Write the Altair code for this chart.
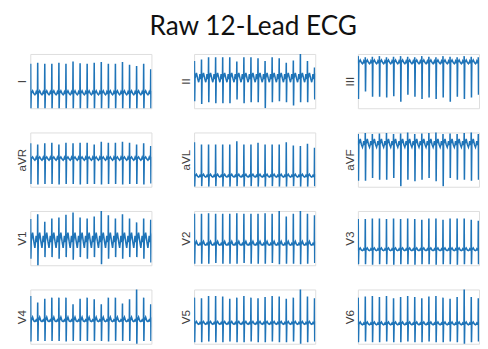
import altair as alt
import pandas as pd

TITLE = "Raw 12-Lead ECG"
LEADS = ["I", "II", "III", "aVR", "aVL", "aVF", "V1", "V2", "V3", "V4", "V5", "V6"]

# beat (R-peak) times, in beat units, shared by all leads
BEAT_T = [0, 1, 2, 3, 4, 5, 6, 7, 8, 9, 10, 11, 12, 13, 14, 15, 16, 17]

# isoelectric level of each lead (fraction of panel range)
BASE = {"I": 0.27, "II": 0.55, "III": 0.84, "aVR": 0.51, "aVL": 0.19, "aVF": 0.78,
        "V1": 0.44, "V2": 0.38, "V3": 0.28, "V4": 0.42, "V5": 0.37, "V6": 0.36}
# P-wave, T-wave and late-wave amplitudes of each lead
P_AMP = {"I": 0.03, "II": 0.08, "III": 0.03, "aVR": 0.03, "aVL": 0.02, "aVF": 0.06,
         "V1": 0.10, "V2": 0.02, "V3": 0.02, "V4": 0.02, "V5": 0.02, "V6": 0.02}
T_AMP = {"I": 0.05, "II": 0.10, "III": 0.05, "aVR": 0.04, "aVL": 0.04, "aVF": 0.10,
         "V1": 0.16, "V2": 0.06, "V3": 0.04, "V4": 0.07, "V5": 0.04, "V6": 0.04}
U_AMP = {"I": -0.02, "II": -0.07, "III": -0.02, "aVR": -0.02, "aVL": -0.01, "aVF": -0.05,
         "V1": -0.12, "V2": -0.01, "V3": -0.01, "V4": -0.01, "V5": -0.01, "V6": -0.01}

# R-peak level of each beat
R_PEAK = {
    "I":   [0.82, 0.84, 0.82, 0.82, 0.84, 0.82, 0.86, 0.83, 0.82, 0.84, 0.85, 0.82, 0.82, 0.85, 0.80, 0.78, 0.82, 0.72],
    "II":  [0.87, 0.90, 0.94, 0.94, 0.94, 0.94, 0.86, 0.94, 0.94, 0.92, 0.87, 0.94, 0.92, 0.84, 0.88, 1.02, 0.87, 0.75],
    "III": [0.96, 0.94, 0.95, 0.96, 0.94, 0.95, 0.96, 0.95, 0.94, 0.96, 0.95, 0.94, 0.96, 0.95, 0.94, 0.96, 0.95, 0.94],
    "aVR": [0.80, 0.78, 0.80, 0.81, 0.78, 0.81, 0.80, 0.81, 0.81, 0.78, 0.83, 0.81, 0.81, 0.83, 0.81, 0.78, 0.80, 0.75],
    "aVL": [0.82, 0.78, 0.78, 0.78, 0.78, 0.78, 0.84, 0.78, 0.78, 0.81, 0.78, 0.78, 0.78, 0.82, 0.76, 0.75, 0.79, 0.72],
    "aVF": [0.97, 0.99, 0.97, 0.98, 0.99, 0.97, 0.98, 1.02, 0.97, 0.98, 0.99, 1.02, 0.97, 0.98, 0.97, 0.99, 1.02, 0.97],
    "V1":  [0.85, 0.94, 0.80, 0.86, 0.88, 0.93, 0.97, 0.88, 0.86, 0.90, 1.02, 0.92, 0.86, 0.94, 0.86, 0.79, 0.86, 0.84],
    "V2":  [0.95, 0.95, 0.96, 0.95, 0.95, 0.95, 0.96, 0.95, 0.95, 0.95, 0.96, 0.95, 1.02, 0.90, 0.95, 1.02, 0.95, 0.92],
    "V3":  [0.85, 0.85, 0.86, 0.86, 0.85, 0.86, 0.85, 0.86, 0.85, 0.84, 0.86, 0.86, 0.84, 0.86, 0.86, 0.86, 0.84, 0.82],
    "V4":  [0.88, 0.76, 0.83, 0.85, 0.85, 0.85, 0.73, 0.83, 0.85, 0.82, 0.73, 0.85, 0.85, 0.74, 0.82, 1.02, 0.85, 0.73],
    "V5":  [0.85, 0.84, 0.88, 0.88, 0.87, 0.83, 0.85, 0.88, 0.85, 0.84, 0.86, 0.88, 0.87, 0.83, 0.85, 1.02, 0.87, 0.84],
    "V6":  [0.85, 0.87, 0.88, 0.86, 0.88, 0.84, 0.86, 0.88, 0.86, 0.84, 0.87, 0.88, 0.85, 0.83, 0.86, 1.02, 0.86, 0.84],
}
# S-trough level of each beat
S_TROUGH = {
    "I":   [-0.02, -0.02, -0.02, -0.02, -0.02, -0.02, -0.02, -0.02, -0.02, -0.02, -0.02, -0.02, -0.02, -0.02, -0.02, -0.02, -0.02, -0.02],
    "II":  [0.13, 0.08, 0.11, 0.09, 0.09, 0.09, 0.16, 0.09, 0.11, 0.11, 0.00, 0.11, 0.13, 0.11, 0.05, 0.11, 0.11, 0.16],
    "III": [0.17, 0.31, 0.21, 0.21, 0.20, 0.22, 0.12, 0.25, 0.21, 0.17, 0.20, 0.17, 0.20, 0.12, 0.21, 0.17, 0.20, 0.25],
    "aVR": [0.05, 0.04, 0.05, 0.05, 0.04, 0.05, 0.05, 0.04, 0.05, 0.05, 0.04, 0.05, 0.05, 0.04, 0.05, 0.05, 0.04, 0.06],
    "aVL": [0.00, 0.01, 0.00, 0.01, 0.00, 0.00, 0.01, 0.00, 0.01, 0.00, 0.00, 0.01, 0.00, 0.00, 0.01, 0.00, 0.00, 0.01],
    "aVF": [0.11, 0.11, 0.16, 0.13, 0.13, 0.16, 0.01, 0.13, 0.10, 0.13, 0.16, 0.10, 0.01, 0.16, 0.13, 0.13, 0.11, 0.13],
    "V1":  [0.12, -0.02, 0.15, 0.15, 0.12, 0.15, 0.10, 0.15, 0.12, 0.15, 0.02, 0.12, 0.15, 0.12, 0.15, 0.15, 0.12, 0.05],
    "V2":  [0.03, 0.03, 0.03, 0.04, 0.03, 0.03, 0.03, 0.04, 0.03, 0.03, 0.03, 0.04, 0.02, 0.03, 0.03, 0.02, 0.03, 0.04],
    "V3":  [0.02, 0.02, 0.01, 0.02, 0.02, 0.01, 0.02, 0.02, 0.01, 0.02, 0.02, 0.01, 0.02, 0.02, 0.01, 0.02, 0.02, 0.02],
    "V4":  [0.04, 0.05, 0.05, 0.05, 0.05, 0.04, 0.05, 0.05, 0.05, 0.05, 0.05, 0.04, 0.05, 0.05, 0.05, -0.02, 0.05, 0.05],
    "V5":  [0.03, 0.03, 0.04, 0.03, 0.03, 0.04, 0.03, 0.03, 0.04, 0.03, 0.03, 0.04, 0.03, 0.03, 0.04, -0.02, 0.03, 0.04],
    "V6":  [0.03, 0.04, 0.03, 0.03, 0.04, 0.03, 0.03, 0.04, 0.03, 0.03, 0.04, 0.03, 0.03, 0.04, 0.03, -0.02, 0.03, 0.04],
}

# time offsets (beat units) of the landmarks of one beat
OFFS = [-0.30, -0.22, -0.14, -0.03, 0.0, 0.03, 0.08, 0.28, 0.45, 0.60, 0.70]


def lead_frame(lead):
    rows = []
    b, p, t, u = BASE[lead], P_AMP[lead], T_AMP[lead], U_AMP[lead]
    for bt, r, s in zip(BEAT_T, R_PEAK[lead], S_TROUGH[lead]):
        levels = [b, b + p, b, b, r, s, b, b + t, b, b + u, b]
        for o, v in zip(OFFS, levels):
            rows.append({"t": bt + o, "v": v})
    return pd.DataFrame(rows)


def panel(lead):
    return (
        alt.Chart(lead_frame(lead))
        .mark_line(clip=True, strokeWidth=1.6, color="#1f74b8")
        .encode(
            x=alt.X("t:Q", scale=alt.Scale(domain=[-0.05, 17.1], nice=False, zero=False), axis=None),
            y=alt.Y("v:Q", scale=alt.Scale(domain=[0, 1], nice=False, zero=False),
                    axis=alt.Axis(title=lead, labels=False, ticks=False, domain=False, grid=False,
                                  titlePadding=2, titleFontSize=12, titleFont="Liberation Sans",
                                  titleFontWeight="normal", titleColor="#404040", minExtent=0, maxExtent=0)),
            order="t:Q",
        )
        .properties(width=125, height=56)
    )


rows = [alt.hconcat(*[panel(l) for l in LEADS[i:i + 3]], spacing=27) for i in range(0, 12, 3)]
chart = (
    alt.vconcat(*rows, spacing=23)
    .properties(
        title=alt.TitleParams(TITLE, font="Lato", fontSize=27, fontWeight="normal", color="#111111",
                              anchor="middle", offset=13, dx=6),
        padding={"left": 7, "top": 0, "right": 0, "bottom": 0},
    )
    .configure_view(stroke="#c4c4c4", strokeWidth=1)
    .configure(background="white")
)

chart.save("out.html", embed_options={"renderer": "svg", "actions": False})
